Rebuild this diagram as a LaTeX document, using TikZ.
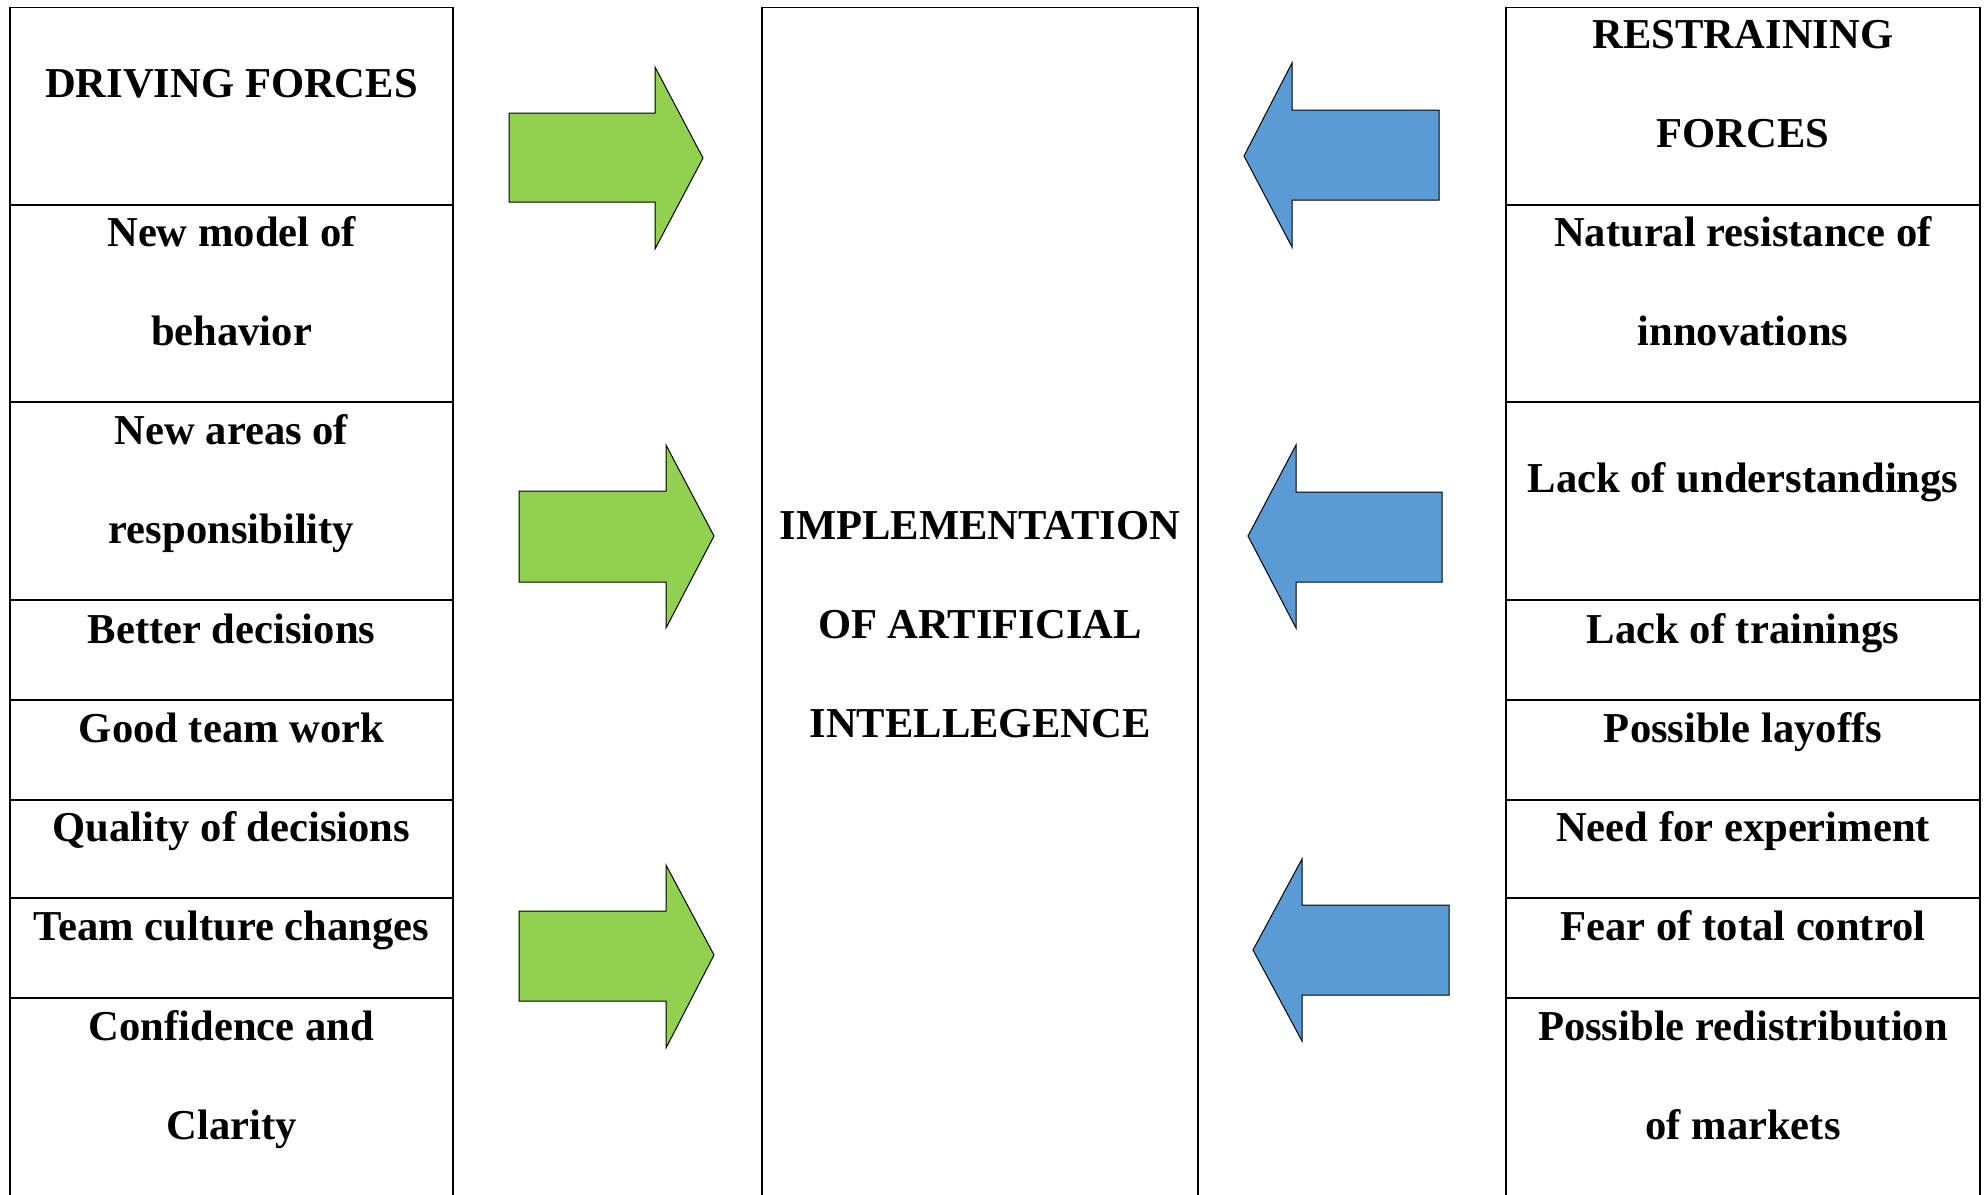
\documentclass[tikz,border=0pt]{standalone}
\usepackage{fontspec}
\setmainfont{Liberation Serif}
\definecolor{dgreen}{HTML}{92D050}
\definecolor{rblue}{HTML}{5B9BD5}
\begin{document}
\begin{tikzpicture}[x=0.5pt,y=-0.5pt,
  cell/.style={draw=black,line width=0.8pt},
  lbl/.style={anchor=base,inner sep=0pt,font=\fontsize{21.3}{25}\selectfont\bfseries},
  garrow/.style={fill=dgreen,draw=black,line width=0.5pt,line join=miter},
  barrow/.style={fill=rblue,draw=black,line width=0.5pt,line join=miter}]
\useasboundingbox (0,0) rectangle (1984,1194);
\clip (0,0) rectangle (1984,1194);

% columns
\draw[cell] (10,7.6) rectangle (453,1230);
\draw[cell] (762,7.6) rectangle (1198,1230);
\draw[cell] (1506,7.6) rectangle (1980,1230);
\foreach \yy in {205,402,600,700,800,898,998}{
  \draw[cell] (10,\yy) -- (453,\yy);
  \draw[cell] (1506,\yy) -- (1980,\yy);
}

% left texts
\node[lbl] (d0) at (231.5,97) {DRIVING FORCES};
\node[lbl] (d1a) at (231.5,246) {New model of};
\node[lbl] (d1b) at (231.5,345) {behavior};
\node[lbl] (d2a) at (231.5,444.5) {New areas of};
\node[lbl] (d2b) at (231.5,543.5) {responsibility};
\node[lbl] (d3) at (231.5,643) {Better decisions};
\node[lbl] (d4) at (231.5,742) {Good team work};
\node[lbl] (d5) at (231.5,841.5) {Quality of decisions};
\node[lbl] (d6) at (231.5,940.5) {Team culture changes};
\node[lbl] (d7a) at (231.5,1040) {Confidence and};
\node[lbl] (d7b) at (231.5,1139) {Clarity};

% center text
\node[lbl] (c1) at (980,539) {IMPLEMENTATION};
\node[lbl] (c2) at (980,638) {OF ARTIFICIAL};
\node[lbl] (c3) at (980,737) {INTELLEGENCE};

% right texts
\node[lbl] (r0a) at (1743,48) {RESTRAINING};
\node[lbl] (r0b) at (1743,147) {FORCES};
\node[lbl] (r1a) at (1743,246) {Natural resistance of};
\node[lbl] (r1b) at (1743,345) {innovations};
\node[lbl] (r2) at (1743,492) {Lack of understandings};
\node[lbl] (r3) at (1743,643) {Lack of trainings};
\node[lbl] (r4) at (1743,742) {Possible layoffs};
\node[lbl] (r5) at (1743,841.5) {Need for experiment};
\node[lbl] (r6) at (1743,940.5) {Fear of total control};
\node[lbl] (r7a) at (1743,1040) {Possible redistribution};
\node[lbl] (r7b) at (1743,1139) {of markets};

% green arrows
\draw[garrow] (509,113) -- (655,113) -- (655,67) -- (703,158) -- (655,249) -- (655,202) -- (509,202) -- cycle;
\draw[garrow] (519,491) -- (666,491) -- (666,445) -- (714,536) -- (666,628) -- (666,582) -- (519,582) -- cycle;
\draw[garrow] (519,911) -- (666,911) -- (666,865) -- (714,955) -- (666,1048) -- (666,1001) -- (519,1001) -- cycle;

% blue arrows
\draw[barrow] (1439,110) -- (1292,110) -- (1292,63) -- (1244,156) -- (1292,247) -- (1292,200) -- (1439,200) -- cycle;
\draw[barrow] (1442,492) -- (1296,492) -- (1296,445) -- (1248,536) -- (1296,628) -- (1296,582) -- (1442,582) -- cycle;
\draw[barrow] (1449,905) -- (1302,905) -- (1302,859) -- (1253,950) -- (1302,1041) -- (1302,995) -- (1449,995) -- cycle;
\end{tikzpicture}
\end{document}
